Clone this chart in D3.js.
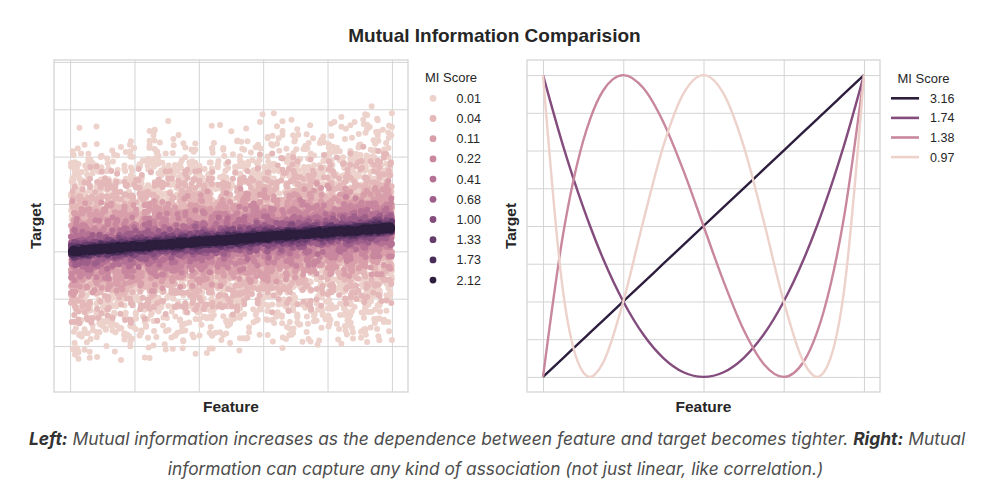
<!DOCTYPE html>
<html>
<head>
<meta charset="utf-8">
<script src="https://cdnjs.cloudflare.com/ajax/libs/d3/7.8.5/d3.min.js"></script>
<style>
  body { margin: 0; background: #fff; }
  text { font-family: "Liberation Sans", Arial, sans-serif; fill: #262626; }
</style>
</head>
<body>
<svg></svg>
<script>
// left panel: MI levels and how wide the cloud of each level is (target units)
const miLevels = ['0.01', '0.04', '0.11', '0.22', '0.41', '0.68', '1.00', '1.33', '1.73', '2.12'];
const noiseSpread = [86, 58, 35, 24, 16, 11, 7.5, 5, 3.4, 2.2];
const trendSlope = 0.05;

const featureX = [
  512,87,934,261,703,45,389,821,156,667,298,975,433,19,758,604,342,889,127,551,
  812,236,470,991,63,685,319,146,907,528,774,402,12,853,589,205,731,364,948,97,
  641,283,519,876,38,452,715,177,963,326,590,108,839,247,674,421,782,5,358,917,
  193,736,468,57,822,609,274,995,141,383,656,904,29,547,811,232,699,415,78,862,
  334,577,120,948,691,265,803,442,16,735,589,171,926,373,650,213,497,871,94,616,
  758,39,427,883,306,562,189,972,643,251,118,794,485,70,918,337,604,851,222,529,
  461,897,153,688,24,776,395,630,269,945,512,84,723,358,169,836,590,9,441,982,
  287,624,848,131,503,967,242,711,379,55,806,466,195,659,923,318,573,102,754,431,
  680,14,937,365,592,218,864,479,137,746,401,999,61,633,284,817,526,173,902,347,
  105,556,789,241,968,423,672,31,854,310,614,176,497,935,75,728,389,860,213,541,
  902,348,617,66,782,437,193,871,520,259,995,148,683,402,827,34,566,301,749,186,
  476,823,11,658,294,917,535,162,741,389,89,612,958,227,485,805,351,699,47,584,
  233,694,957,120,447,785,316,872,53,629,408,976,263,514,168,843,392,711,18,561,
  815,132,380,927,603,275,748,491,82,956,337,664,205,879,542,117,770,425,989,298,
  64,519,862,187,731,406,954,243,628,95,817,352,569,28,693,278,914,461,139,775,
  598,251,706,13,887,454,169,634,975,322,547,801,76,419,683,232,951,505,370,128,
  931,410,62,787,289,539,856,194,672,350,998,113,605,443,7,760,316,889,527,247,
  377,725,216,961,483,91,640,852,327,579,158,906,434,688,40,809,262,553,997,144,
  716,33,486,829,204,652,943,371,117,598,271,884,509,755,26,418,675,183,961,343,
  558,896,125,440,781,301,984,617,70,839,402,226,693,15,570,927,345,812,189,466,
  82,629,358,913,199,744,491,36,867,315,585,954,148,707,423,873,260,532,982,111,
  645,279,990,412,57,836,551,187,722,396,919,643,22,478,804,333,159,697,458,921,
  247,780,506,169,945,384,613,71,858,290,537,1000,216,674,440,95,766,321,889,603,
  439,15,727,583,268,906,152,491,838,661,305,98,956,414,187,747,528,862,64,390,
  871,355,628,205,989,476,116,709,382,26,855,563,246,934,671,141,418,795,312,570,
  153,962,490,737,83,614,287,848,528,221,694,39,911,372,620,476,173,800,958,263,
  706,402,857,115,559,297,983,681,45,434,767,197,625,876,336,3,513,942,254,780,
  321,648,97,898,466,739,223,579,948,131,812,382,660,60,285,917,544,178,724,459,
  983,169,541,331,785,52,697,429,876,614,244,937,108,501,769,358,833,21,592,216,
  529,808,275,660,133,947,384,742,8,565,293,852,473,117,679,991,222,415,896,346
];
const residualZ = [
  23,-87,142,-15,56,-203,91,-34,8,-126,67,175,-48,-92,31,119,-6,-161,44,238,
  -71,12,-139,83,157,-27,-58,4,101,-244,39,-113,72,-19,190,-66,135,-3,-88,52,
  17,-154,63,228,-41,-97,110,26,-182,79,-9,148,-35,-126,93,-60,2,171,-215,47,
  -118,84,-28,11,136,-73,199,-45,58,-164,30,-7,121,-99,266,-51,76,-140,19,-24,
  64,-189,105,-12,-78,42,-231,153,7,95,-36,187,-116,49,-68,0,128,-207,37,-90,
  145,-22,73,-133,14,210,-57,-104,88,39,-171,61,-13,117,-246,26,94,-82,168,-40,
  -29,132,-65,5,251,-149,43,77,-111,18,-194,101,-55,164,-8,-124,69,216,-37,90,
  11,-76,182,-142,54,99,-16,-221,130,33,-62,7,-179,86,247,-47,123,-94,-1,61,
  -135,40,158,-26,-85,113,-202,70,21,-59,176,-119,46,302,-13,96,-157,28,-70,139,
  74,-44,-108,196,3,-167,57,81,-233,125,-20,150,-91,35,-52,209,-128,12,66,-185,
  -11,167,-74,102,-152,48,-31,259,-98,16,137,-63,-213,85,22,-140,191,-5,53,-103,
  118,-38,27,-196,71,6,144,-81,223,-54,92,-120,15,-173,107,40,-239,62,-25,178,
  -64,99,-146,34,240,-18,-93,127,-41,67,-204,10,155,-115,80,-276,45,114,-33,9,
  131,-56,187,-77,24,-130,62,-9,206,-163,89,38,-104,147,-23,69,-188,18,234,-79,
  -42,73,-219,160,-3,97,-61,43,-145,226,-15,-88,126,8,-177,57,104,-35,-254,166,
  20,184,-101,-27,65,-159,115,32,-70,242,-117,50,-8,89,-230,141,-48,1,172,-60,
  87,-125,13,139,-199,46,-83,221,-21,68,-136,111,-46,-264,29,153,-95,76,-16,208,
  -156,36,94,-52,170,-107,6,58,-226,123,-37,75,193,-68,17,-121,281,-44,100,-190,
  55,-14,146,-88,-165,28,218,-39,83,-110,3,162,-72,41,-250,109,-19,136,-60,71,
  -97,203,-24,66,119,-181,39,-67,-4,174,-129,52,245,-86,14,-147,93,-30,195,-112,
  30,-61,-170,128,48,-36,90,-211,161,-2,78,-143,25,107,-77,186,-54,-122,62,7,
  -187,115,19,-46,236,-94,55,2,-135,82,-258,44,151,-17,-66,120,-198,35,88,-29,
  140,-11,-79,201,-124,60,-168,24,97,-50,185,-106,10,-225,133,-43,70,257,-91,18,
  -53,86,165,-120,31,-203,74,-33,118,5,-152,229,-62,42,-96,15,178,-140,59,-274,
  106,-26,50,-177,92,21,-85,143,-57,213,-18,-131,68,-241,34,124,-71,6,159,-105,
  -15,154,-99,38,-216,81,12,-150,193,-42,63,-80,270,-127,27,-9,104,-186,47,96,
  61,-190,129,-64,4,176,-32,-245,84,41,-109,18,227,-73,-146,100,-23,58,-166,135,
  -123,45,-7,209,-87,116,-47,33,-198,156,-65,92,-17,-134,71,283,-53,3,-110,180,
  36,-143,79,-30,151,-226,62,9,-93,197,-39,111,-159,54,-6,88,-265,142,-48,25,
  -78,125,16,-101,60,-40,222,-132,47,-19,91,-205,138,-58,7,-175,109,28,-84,163
];
// which level each drawing pass belongs to, and how residuals are paired with features
const layerLevel = [0, 0, 0, 0, 0, 0, 1, 1, 1, 1, 1, 2, 2, 2, 2, 3, 3, 3, 4, 4, 5, 5, 6, 6, 7, 7, 8, 8, 9, 9];
const layerShift = [0, 101, 202, 303, 404, 505, 37, 149, 261, 373, 485, 71, 193, 317, 439, 127, 251, 379, 53, 281, 167, 409, 89, 331, 223, 457, 13, 271, 143, 397];

// right panel: MI scores and curve points
const curveScores = ['3.16', '1.74', '1.38', '0.97'];
const curveFeature = [-1, -0.875, -0.75, -0.7071, -0.625, -0.5, -0.375, -0.25, -0.125, 0, 0.125, 0.25, 0.375, 0.5, 0.625, 0.7071, 0.75, 0.875, 1];
const curve316 = [-1, -0.875, -0.75, -0.707, -0.625, -0.5, -0.375, -0.25, -0.125, 0, 0.125, 0.25, 0.375, 0.5, 0.625, 0.707, 0.75, 0.875, 1];
const curve174 = [1, 0.531, 0.125, 0, -0.219, -0.5, -0.719, -0.875, -0.969, -1, -0.969, -0.875, -0.719, -0.5, -0.219, 0, 0.125, 0.531, 1];
const curve138 = [-1, -0.055, 0.563, 0.707, 0.898, 1, 0.914, 0.688, 0.367, 0, -0.367, -0.688, -0.914, -1, -0.898, -0.707, -0.563, 0.055, 1];
const curve097 = [1, -0.436, -0.969, -1, -0.904, -0.5, 0.033, 0.531, 0.877, 1, 0.877, 0.531, 0.033, -0.5, -0.904, -1, -0.969, -0.436, 1];

const leftFeatureTicks = [0, 200, 400, 600, 800, 1000];
const leftTargetTicks = [-200, -100, 0, 100, 200, 300, 400];
const rightFeatureTicks = [-1, -0.5, 0, 0.5, 1];
const rightTargetTicks = [-1, -0.75, -0.5, -0.25, 0, 0.25, 0.5, 0.75, 1];

// seaborn default cubehelix palette (light -> dark)
function cubehelixPalette(n) {
  return d3.range(n).map(i => {
    const t = 0.85 - 0.7 * i / (n - 1);
    const phi = 2 * Math.PI * 0.4 * t;
    const a = 0.8 * t * (1 - t) / 2;
    const c = Math.cos(phi), s = Math.sin(phi);
    const r = t + a * (-0.14861 * c + 1.78277 * s);
    const g = t + a * (-0.29227 * c - 0.90649 * s);
    const b = t + a * (1.97294 * c);
    return d3.rgb(r * 255, g * 255, b * 255).formatHex();
  });
}

const svg = d3.select('svg').attr('width', 981).attr('height', 485);
const gridColor = '#d4d4d4';

function drawFrame(x, y, xt, yt) {
  const g = svg.append('g');
  g.append('g')
    .attr('transform', `translate(0,${y.range()[0]})`)
    .call(d3.axisBottom(x).tickValues(xt).tickSize(y.range()[1] - y.range()[0]).tickFormat(''))
    .call(a => a.select('.domain').remove())
    .call(a => a.selectAll('line').attr('stroke', gridColor).attr('stroke-width', 1));
  g.append('g')
    .attr('transform', `translate(${x.range()[0]},0)`)
    .call(d3.axisLeft(y).tickValues(yt).tickSize(x.range()[0] - x.range()[1]).tickFormat(''))
    .call(a => a.select('.domain').remove())
    .call(a => a.selectAll('line').attr('stroke', gridColor).attr('stroke-width', 1));
  return g;
}
function drawBorder(x, y) {
  svg.append('rect')
    .attr('x', x.range()[0]).attr('y', y.range()[1])
    .attr('width', x.range()[1] - x.range()[0]).attr('height', y.range()[0] - y.range()[1])
    .attr('fill', 'none').attr('stroke', gridColor).attr('stroke-width', 1.3);
}
function axisLabels(x, y, labelX) {
  svg.append('text')
    .attr('x', (x.range()[0] + x.range()[1]) / 2).attr('y', 412)
    .attr('text-anchor', 'middle').attr('font-size', 15.5).attr('font-weight', 'bold')
    .text('Feature');
  svg.append('text')
    .attr('transform', `translate(${labelX},${(y.range()[0] + y.range()[1]) / 2}) rotate(-90)`)
    .attr('text-anchor', 'middle').attr('font-size', 15.5).attr('font-weight', 'bold')
    .text('Target');
}

// ---------- left panel ----------
const xL = d3.scaleLinear().domain([-50, 1050]).range([54, 408]);
const yL = d3.scaleLinear().domain([-297, 404]).range([392, 60]);
const levelColors = cubehelixPalette(miLevels.length);

drawFrame(xL, yL, leftFeatureTicks, leftTargetTicks);

const points = [];
layerLevel.forEach((lev, li) => {
  featureX.forEach((fx, i) => {
    const z = residualZ[(i + layerShift[li]) % residualZ.length];
    points.push({ x: fx, y: trendSlope * fx + z / 100 * noiseSpread[lev], lev: lev });
  });
});

svg.append('g').selectAll('circle')
  .data(points)
  .join('circle')
  .attr('cx', d => xL(d.x))
  .attr('cy', d => yL(d.y))
  .attr('r', 3)
  .attr('fill', d => levelColors[d.lev]);

drawBorder(xL, yL);
axisLabels(xL, yL, 41);

const legL = svg.append('g');
legL.append('text').attr('x', 451).attr('y', 81.5).attr('text-anchor', 'middle')
  .attr('font-size', 13).text('MI Score');
miLevels.forEach((m, i) => {
  const cy = 98.3 + i * 20.2;
  legL.append('circle').attr('cx', 433).attr('cy', cy).attr('r', 3.4).attr('fill', levelColors[i]);
  legL.append('text').attr('x', 456.5).attr('y', cy).attr('dy', '0.36em')
    .attr('font-size', 12.5).text(m);
});

// ---------- right panel ----------
const xR = d3.scaleLinear().domain([-1.1, 1.1]).range([527, 880]);
const yR = d3.scaleLinear().domain([-1.1, 1.1]).range([392, 60]);
const curveColors = cubehelixPalette(curveScores.length).reverse();
const curveValues = [curve316, curve174, curve138, curve097];

drawFrame(xR, yR, rightFeatureTicks, rightTargetTicks);
drawBorder(xR, yR);

const line = d3.line()
  .x((d, i) => xR(curveFeature[i]))
  .y(d => yR(d))
  .curve(d3.curveMonotoneX);

svg.append('g').selectAll('path')
  .data(curveValues)
  .join('path')
  .attr('d', d => line(d))
  .attr('fill', 'none')
  .attr('stroke', (d, i) => curveColors[i])
  .attr('stroke-width', 2.4);

axisLabels(xR, yR, 516);

const legR = svg.append('g');
legR.append('text').attr('x', 923.5).attr('y', 82.5).attr('text-anchor', 'middle')
  .attr('font-size', 13).text('MI Score');
curveScores.forEach((m, i) => {
  const cy = 98.3 + i * 19.6;
  legR.append('line').attr('x1', 891).attr('x2', 919).attr('y1', cy).attr('y2', cy)
    .attr('stroke', curveColors[i]).attr('stroke-width', 2.6);
  legR.append('text').attr('x', 930).attr('y', cy).attr('dy', '0.36em')
    .attr('font-size', 12.5).text(m);
});

// ---------- title and caption ----------
svg.append('text')
  .attr('x', 494.5).attr('y', 42)
  .attr('text-anchor', 'middle').attr('font-size', 19).attr('font-weight', 'bold')
  .text('Mutual Information Comparision');

const cap = svg.append('g')
  .style('font-family', 'Inter, "Noto Sans", sans-serif')
  .style('font-style', 'italic');
const cap1 = cap.append('text').attr('x', 497).attr('y', 445).attr('text-anchor', 'middle')
  .attr('font-size', 17.4).style('fill', '#4d4d4d').style('font-family', 'inherit');
cap1.append('tspan').attr('font-weight', 'bold').style('fill', '#333').text('Left:');
cap1.append('tspan').text(' Mutual information increases as the dependence between feature and target becomes tighter. ');
cap1.append('tspan').attr('font-weight', 'bold').style('fill', '#333').text('Right:');
cap1.append('tspan').text(' Mutual');
cap.append('text').attr('x', 495.5).attr('y', 475).attr('text-anchor', 'middle')
  .attr('font-size', 17.3).style('fill', '#4d4d4d').style('font-family', 'inherit')
  .text('information can capture any kind of association (not just linear, like correlation.)');
</script>
</body>
</html>
